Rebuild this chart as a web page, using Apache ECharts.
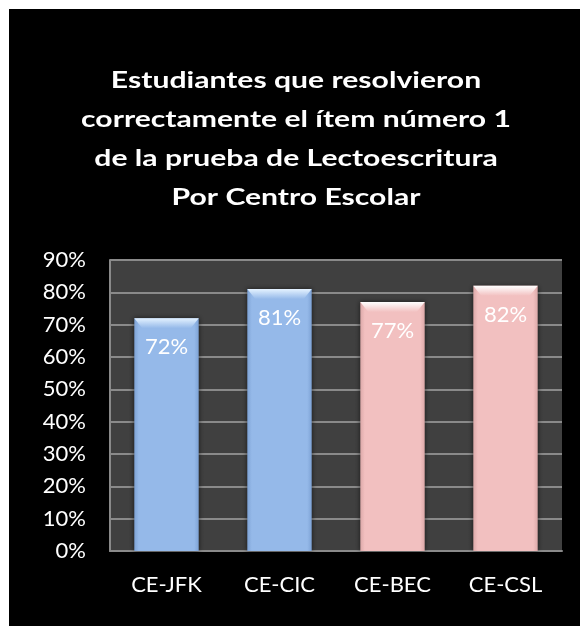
<!DOCTYPE html>
<html>
<head>
<meta charset="utf-8">
<script src="https://cdn.jsdelivr.net/npm/echarts@6/dist/echarts.min.js"></script>
<style>
html,body{margin:0;padding:0;background:#fff;width:580px;height:626px;overflow:hidden;}
#chart{position:absolute;left:9px;top:9px;width:571px;height:617px;background:#000;}
</style>
</head>
<body>
<div id="chart"></div>
<script>
// ---- data ----
const titleLines = [
  'Estudiantes que resolvieron',
  'correctamente el ítem número 1',
  'de la prueba de Lectoescritura',
  'Por Centro Escolar'
];
const categories = ['CE-JFK', 'CE-CIC', 'CE-BEC', 'CE-CSL'];
const percentValues = [72, 81, 77, 82];
const yTickMin = 0;
const yTickMax = 90;
const yTickStep = 10;

// ---- styles ----
const barColors = ['#95b9e9', '#95b9e9', '#f2c0c0', '#f2c0c0'];
const barEdge = ['#7ea3d6', '#7ea3d6', '#dca9a9', '#dca9a9'];
const capTop = ['#e4f2ff', '#e4f2ff', '#ffffff', '#ffffff'];
const FONT = 'Lato, "Open Sans", sans-serif';
const BAR_RATIO = 0.57;

const chart = echarts.init(document.getElementById('chart'));

function bodyGradient(i) {
  return new echarts.graphic.LinearGradient(0, 0, 1, 0, [
    {offset: 0, color: barEdge[i]},
    {offset: 0.07, color: barColors[i]},
    {offset: 0.93, color: barColors[i]},
    {offset: 1, color: barEdge[i]}
  ]);
}

chart.setOption({
  backgroundColor: '#000',
  animation: false,
  graphic: [{
    type: 'text',
    x: 287,
    y: 52,
    scaleX: 1.31,
    silent: true,
    style: {
      text: titleLines.join('\n'),
      align: 'center',
      verticalAlign: 'top',
      fill: '#fff',
      fontFamily: FONT,
      fontWeight: 'bold',
      fontSize: 23,
      lineHeight: 39
    }
  }],
  grid: {
    left: 101,
    right: 18,
    top: 251,
    bottom: 75,
    show: true,
    backgroundColor: '#404040',
    borderWidth: 0
  },
  xAxis: {
    type: 'category',
    data: categories,
    axisLine: {show: true, lineStyle: {color: '#8a8a8a', width: 2}},
    axisTick: {show: false},
    axisLabel: {color: '#fff', fontFamily: FONT, fontSize: 22, margin: 23}
  },
  yAxis: {
    type: 'value',
    min: yTickMin,
    max: yTickMax,
    interval: yTickStep,
    axisLine: {show: true, lineStyle: {color: '#8a8a8a', width: 2}},
    axisTick: {show: false},
    splitLine: {show: true, lineStyle: {color: '#8a8a8a', width: 2}},
    axisLabel: {color: '#fff', fontFamily: FONT, fontSize: 22, margin: 24, formatter: '{value}%'}
  },
  series: [
    {
      type: 'bar',
      barWidth: (BAR_RATIO * 100) + '%',
      data: percentValues.map((v, i) => ({
        value: v,
        itemStyle: {
          color: bodyGradient(i),
          shadowBlur: 5,
          shadowColor: 'rgba(0,0,0,0.6)'
        }
      })),
      label: {
        show: true,
        position: 'insideTop',
        distance: 18,
        color: '#fff',
        fontFamily: FONT,
        fontSize: 22,
        formatter: '{c}%'
      },
      z: 2
    },
    {
      type: 'custom',
      silent: true,
      z: 3,
      data: percentValues.map((v, i) => [i, v]),
      renderItem: function (params, api) {
        const i = params.dataIndex;
        const top = api.coord([api.value(0), api.value(1)]);
        const w = api.size([1, 0])[0] * BAR_RATIO;
        const x0 = top[0] - w / 2, x1 = top[0] + w / 2, y = top[1];
        const h = 10, inset = 8;
        return {
          type: 'polygon',
          shape: {points: [[x0, y], [x1, y], [x1 - inset, y + h], [x0 + inset, y + h]]},
          style: {
            fill: new echarts.graphic.LinearGradient(0, 0, 0, 1, [
              {offset: 0, color: capTop[i]},
              {offset: 1, color: barColors[i]}
            ])
          }
        };
      }
    }
  ]
});
</script>
</body>
</html>
